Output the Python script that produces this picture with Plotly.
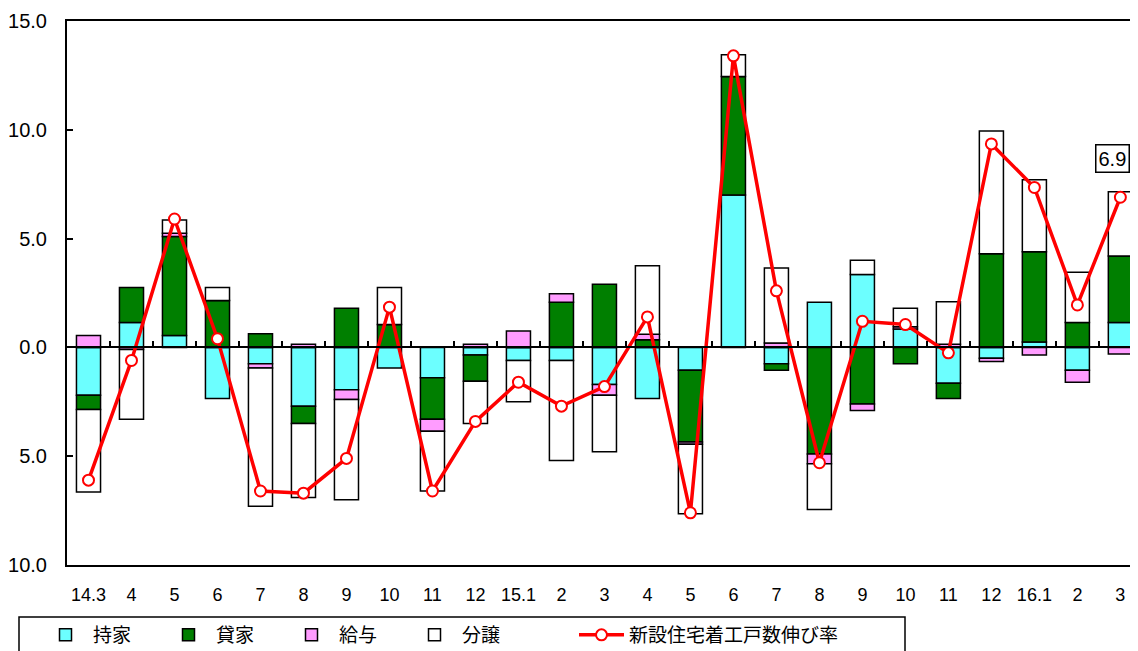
import plotly.graph_objects as go

categories = ["14.3", "4", "5", "6", "7", "8", "9", "10", "11", "12", "15.1", "2",
              "3", "4", "5", "6", "7", "8", "9", "10", "11", "12", "16.1", "2", "3"]

mochiie = [-2.2, 1.15, 0.55, -2.35, -0.75, -2.7, -1.95, -0.95, -1.4, -0.35, -0.6, -0.6,
           -1.7, -2.35, -1.05, 7.0, -0.75, 2.08, 3.35, 0.85, -1.65, -0.5, 0.25, -1.05, 1.15]
kashiya = [-0.65, 1.6, 4.55, 2.15, 0.63, -0.8, 1.8, 1.05, -1.9, -1.2, 0.0, 2.08,
           2.9, 0.35, -3.3, 5.45, -0.3, -4.9, -2.6, -0.75, -0.7, 4.3, 4.15, 1.15, 3.05]
kyuyo = [0.55, -0.1, 0.15, 0.0, -0.2, 0.15, -0.45, 0.0, -0.55, 0.15, 0.75, 0.38,
         -0.5, 0.25, -0.1, 0.0, 0.2, -0.45, -0.3, 0.1, 0.15, -0.15, -0.35, -0.55, -0.3]
bunjo = [-3.8, -3.2, 0.6, 0.6, -6.35, -3.4, -4.6, 1.7, -2.75, -1.95, -1.9, -4.6,
         -2.6, 3.15, -3.2, 1.0, 3.45, -2.1, 0.65, 0.85, 1.95, 5.65, 3.3, 2.3, 2.95]
growth = [-6.1, -0.6, 5.9, 0.4, -6.6, -6.7, -5.1, 1.85, -6.6, -3.4, -1.6, -2.7,
          -1.8, 1.4, -7.6, 13.4, 2.6, -5.3, 1.2, 1.05, -0.25, 9.35, 7.35, 1.95, 6.9]

ytick_vals = [15, 10, 5, 0, -5, -10]
ytick_text = ["15.0", "10.0", "5.0", "0.0", "5.0", "10.0"]

xs = list(range(len(categories)))
XR = [-0.5, 24.41]

# page body has an 8px margin; figure offset accordingly
W, H = 1130, 643
ML, MT, MB = 59, 13, 86
PW, PH = W - ML, H - MT - MB

bar_specs = [
    ("持家", mochiie, "#6CFFFF"),
    ("貸家", kashiya, "#007F00"),
    ("給与", kyuyo, "#FF9CFF"),
    ("分譲", bunjo, "#FFFFFF"),
]

fig = go.Figure()
for name, vals, col in bar_specs:
    fig.add_trace(go.Bar(
        x=xs, y=vals, name=name, width=0.56,
        marker=dict(color=col, line=dict(color="black", width=1.5)),
        xaxis="x", yaxis="y", legend="legend",
    ))

fig.add_trace(go.Scatter(
    x=xs, y=growth, name="新設住宅着工戸数伸び率", mode="lines+markers",
    line=dict(color="#FF0000", width=3.5),
    marker=dict(symbol="circle", size=11, color="white",
                line=dict(color="#FF0000", width=2)),
    xaxis="x2", yaxis="y", legend="legend2",
))

fig.add_annotation(
    x=24, y=growth[-1], xref="x", yref="y", text="6.9", showarrow=False,
    xshift=-8, yshift=39, yanchor="middle",
    font=dict(family="Liberation Sans, Arial", size=20, color="black"),
    bordercolor="black", borderwidth=1.5, borderpad=2, bgcolor="white",
)

# legend frame (page px: x 19..905, top ~617)
fig.add_shape(
    type="rect", xref="paper", yref="paper",
    x0=(11 - ML) / PW, x1=(897 - ML) / PW,
    y0=-(609 - MT - PH) / PH, y1=-(680 - MT - PH) / PH,
    line=dict(color="black", width=1.5), fillcolor="rgba(0,0,0,0)",
)

legend_common = dict(
    orientation="h", yref="container", xref="container", yanchor="top",
    borderwidth=0, bgcolor="rgba(0,0,0,0)",
    font=dict(family="Noto Sans CJK JP", size=19, color="black"),
    traceorder="normal", itemwidth=45,
)

fig.update_layout(
    width=W, height=H,
    margin=dict(l=ML, r=0, t=MT, b=MB, autoexpand=False),
    paper_bgcolor="white", plot_bgcolor="white",
    barmode="relative",
    font=dict(family="Liberation Sans, Arial", size=18, color="black"),
    xaxis=dict(
        range=XR, tickmode="array", tickvals=xs, ticktext=categories,
        showline=True, linecolor="black", linewidth=2, mirror=True,
        ticks="", showgrid=False, zeroline=False, ticklabelstandoff=12,
        tickfont=dict(size=18), automargin=False,
    ),
    xaxis2=dict(
        range=XR, overlaying="x", anchor="free", position=0.4, side="bottom",
        tickmode="array", tickvals=[i + 0.5 for i in xs[:-1]],
        showticklabels=False, ticks="inside", ticklen=6, tickwidth=1.5,
        tickcolor="black", showline=True, linecolor="black", linewidth=1.5,
        showgrid=False, zeroline=False, automargin=False,
    ),
    yaxis=dict(
        range=[-10, 15], tickmode="array", tickvals=ytick_vals, ticktext=ytick_text,
        showline=True, linecolor="black", linewidth=2, mirror=False,
        ticks="inside", ticklen=6, tickwidth=1.5, tickcolor="black",
        showgrid=False, zeroline=False, ticklabelstandoff=14,
        tickfont=dict(size=20), automargin=False,
    ),
    showlegend=True,
    legend=dict(x=30 / W, y=1 - 608 / H, entrywidth=63,
                entrywidthmode="pixels", **legend_common),
    legend2=dict(x=566 / W, y=1 - 608 / H, **legend_common),
)

fig.write_html("out.html")
